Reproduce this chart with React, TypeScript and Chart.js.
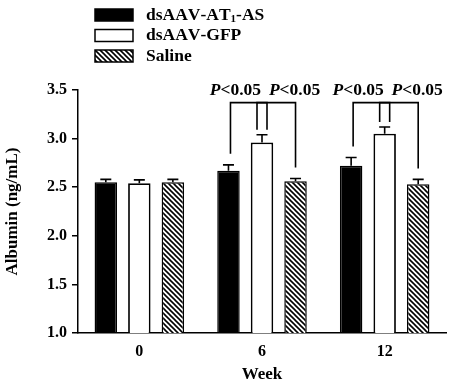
import React, { useEffect, useRef } from 'react';
import { Chart, registerables } from 'chart.js';

Chart.register(...registerables);

const weeks = ['0', '6', '12'];
const seriesNames = ['dsAAV-AT₁-AS', 'dsAAV-GFP', 'Saline'];
const at1Values = [2.55, 2.67, 2.72];
const at1Errors = [0.03, 0.06, 0.085];
const gfpValues = [2.54, 2.96, 3.05];
const gfpErrors = [0.035, 0.08, 0.07];
const salineValues = [2.55, 2.56, 2.53];
const salineErrors = [0.03, 0.03, 0.05];
const yMin = 1.0;
const yMax = 3.5;
const yStep = 0.5;
// significance comparisons: week index, dataset a, dataset b, label
const comparisonWeeks = [1, 1, 2, 2];
const comparisonA = [0, 1, 0, 1];
const comparisonB = [1, 2, 1, 2];
const comparisonLabels = ['P<0.05', 'P<0.05', 'P<0.05', 'P<0.05'];
const bracketTopValue = 3.37;

const FONT = '"Liberation Serif", "Times New Roman", Times, serif';

function makeHatch(): CanvasPattern | string {
  const s = 5;
  const c = document.createElement('canvas');
  c.width = s;
  c.height = s;
  const g = c.getContext('2d');
  if (!g) return '#888';
  g.fillStyle = '#fff';
  g.fillRect(0, 0, s, s);
  g.strokeStyle = '#000';
  g.lineWidth = 1.6;
  for (const o of [-s, 0, s]) {
    g.beginPath();
    g.moveTo(o - 1, -1);
    g.lineTo(o + s + 1, s + 1);
    g.stroke();
  }
  const p = g.createPattern(c, 'repeat');
  return p || '#888';
}

const subMap: Record<string, string> = {
  '₀': '0', '₁': '1', '₂': '2', '₃': '3', '₄': '4', '₅': '5', '₆': '6', '₇': '7', '₈': '8', '₉': '9',
};

const errorBarPlugin = {
  id: 'errorBars',
  afterDatasetsDraw(chart: any) {
    const ctx = chart.ctx;
    const y = chart.scales.y;
    chart.data.datasets.forEach((ds: any, i: number) => {
      const meta = chart.getDatasetMeta(i);
      meta.data.forEach((bar: any, j: number) => {
        const top = y.getPixelForValue(ds.data[j] + ds.errors[j]);
        ctx.save();
        ctx.strokeStyle = '#000';
        ctx.lineWidth = 1.6;
        ctx.beginPath();
        ctx.moveTo(bar.x, bar.y);
        ctx.lineTo(bar.x, top);
        ctx.moveTo(bar.x - 5.5, top);
        ctx.lineTo(bar.x + 5.5, top);
        ctx.stroke();
        ctx.restore();
      });
    });
  },
};

const significancePlugin = {
  id: 'significance',
  afterDatasetsDraw(chart: any) {
    const ctx = chart.ctx;
    const y = chart.scales.y;
    const errTop = (d: number, w: number) => {
      const ds: any = chart.data.datasets[d];
      return y.getPixelForValue(ds.data[w] + ds.errors[w]);
    };
    const barX = (d: number, w: number) => chart.getDatasetMeta(d).data[w].x;
    const topY = y.getPixelForValue(bracketTopValue);
    comparisonWeeks.forEach((w, k) => {
      const a = comparisonA[k];
      const b = comparisonB[k];
      const endX = (d: number, other: number) => (d === 1 ? barX(d, w) + (other < d ? 5 : -5) : barX(d, w) + (d === 0 ? 2 : 0));
      const endY = (d: number) => errTop(d, w) - (d === 1 ? 5 : 11);
      const x1 = endX(a, b);
      const x2 = endX(b, a);
      ctx.save();
      ctx.strokeStyle = '#000';
      ctx.lineWidth = 1.6;
      ctx.beginPath();
      ctx.moveTo(x1, endY(a));
      ctx.lineTo(x1, topY);
      ctx.lineTo(x2, topY);
      ctx.lineTo(x2, endY(b));
      ctx.stroke();
      // label
      const label = comparisonLabels[k];
      const first = label.charAt(0);
      const rest = label.slice(1);
      ctx.font = `italic bold 17.5px ${FONT}`;
      const w1 = ctx.measureText(first).width;
      ctx.font = `bold 17.5px ${FONT}`;
      const w2 = ctx.measureText(rest).width;
      const center = a === 0 ? x1 + 5 : x2 - 1;
      const sx = center - (w1 + w2) / 2;
      const ty = topY - 8;
      ctx.fillStyle = '#000';
      ctx.textBaseline = 'alphabetic';
      ctx.textAlign = 'left';
      ctx.font = `italic bold 17.5px ${FONT}`;
      ctx.fillText(first, sx, ty);
      ctx.font = `bold 17.5px ${FONT}`;
      ctx.fillText(rest, sx + w1, ty);
      ctx.restore();
    });
  },
};

const legendPlugin = {
  id: 'customLegend',
  afterDraw(chart: any) {
    const ctx = chart.ctx;
    chart.data.datasets.forEach((ds: any, i: number) => {
      const cy = 15 + i * 20.5;
      ctx.save();
      ctx.fillStyle = ds.backgroundColor;
      ctx.fillRect(95, cy - 6, 38, 12);
      ctx.strokeStyle = '#000';
      ctx.lineWidth = 1.5;
      ctx.strokeRect(95, cy - 6, 38, 12);
      ctx.fillStyle = '#000';
      ctx.textBaseline = 'middle';
      ctx.textAlign = 'left';
      let x = 146;
      for (const ch of Array.from(ds.label as string)) {
        if (subMap[ch]) {
          ctx.font = `bold 11px ${FONT}`;
          ctx.fillText(subMap[ch], x, cy + 4);
          x += ctx.measureText(subMap[ch]).width;
        } else {
          ctx.font = `bold 17.5px ${FONT}`;
          ctx.fillText(ch, x, cy);
          x += ctx.measureText(ch).width;
        }
      }
      ctx.restore();
    });
  },
};

export default function App() {
  const ref = useRef<HTMLCanvasElement | null>(null);
  useEffect(() => {
    document.body.style.margin = '0';
    if (!ref.current) return;
    const hatch = makeHatch();
    const chart = new Chart(ref.current, {
      type: 'bar',
      data: {
        labels: weeks,
        datasets: [
          { label: seriesNames[0], data: at1Values, errors: at1Errors, backgroundColor: '#000', borderColor: '#000', borderWidth: 1.5 } as any,
          { label: seriesNames[1], data: gfpValues, errors: gfpErrors, backgroundColor: '#fff', borderColor: '#000', borderWidth: 1.8 } as any,
          { label: seriesNames[2], data: salineValues, errors: salineErrors, backgroundColor: hatch, borderColor: '#000', borderWidth: 1.5 } as any,
        ],
      },
      options: {
        responsive: false,
        devicePixelRatio: 1,
        animation: false,
        layout: { padding: { top: 90, left: 0, right: 11, bottom: 0 } },
        datasets: { bar: { categoryPercentage: 0.82, barPercentage: 0.67 } },
        plugins: { legend: { display: false }, tooltip: { enabled: false } },
        scales: {
          x: {
            grid: { display: false, drawTicks: false },
            border: { display: true, color: '#000', width: 1.5 },
            ticks: { color: '#000', font: { family: FONT, size: 16, weight: 'bold' }, padding: 9 },
            title: { display: true, text: 'Week', color: '#000', font: { family: FONT, size: 17, weight: 'bold' }, padding: { top: 0, bottom: 1 } },
            afterFit(scale: any) { scale.height = 53; },
          },
          y: {
            min: yMin,
            max: yMax,
            grid: { display: true, drawOnChartArea: false, drawTicks: true, tickLength: 6, color: '#000', lineWidth: 1.5 },
            border: { display: true, color: '#000', width: 1.5 },
            ticks: {
              stepSize: yStep,
              color: '#000',
              padding: 5,
              font: { family: FONT, size: 16, weight: 'bold' },
              callback: (v: any) => Number(v).toFixed(1),
            },
            title: { display: true, text: 'Albumin (ng/mL)', color: '#000', font: { family: FONT, size: 17, weight: 'bold' }, padding: { top: 2, bottom: 0 } },
            afterFit(scale: any) { scale.width = 78; },
          },
        },
      } as any,
      plugins: [errorBarPlugin, significancePlugin, legendPlugin],
    });
    return () => chart.destroy();
  }, []);
  return (
    <div style={{ position: 'fixed', left: 0, top: 0, width: 457, height: 386, background: '#fff' }}>
      <canvas ref={ref} width={457} height={386} style={{ display: 'block', width: 457, height: 386 }} />
    </div>
  );
}
